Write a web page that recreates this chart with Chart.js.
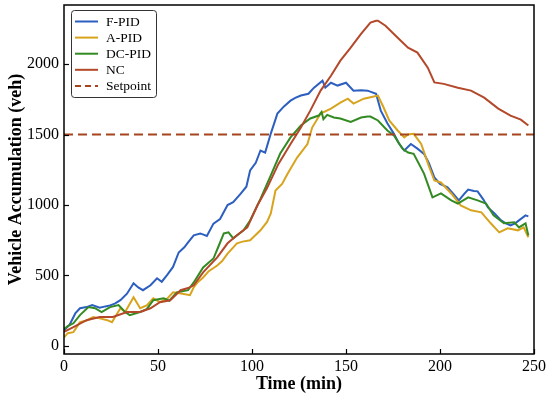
<!DOCTYPE html>
<html>
<head>
<meta charset="utf-8">
<script src="https://cdn.jsdelivr.net/npm/chart.js@4.4.0/dist/chart.umd.min.js"></script>
<style>
  html, body { margin: 0; padding: 0; background: #fff; }
  #wrap { width: 550px; height: 399px; }
</style>
</head>
<body>
<div id="wrap"><canvas id="accChart" width="550" height="399"></canvas></div>
<script>
// values (time in min, accumulation in veh)
const fpidTime = [0, 3, 6, 8.5, 12, 15, 19, 22, 24.5, 27, 30, 33.5, 37, 39.5, 42, 46, 49.5, 52, 55, 58, 61, 64, 66, 69, 72.5, 76, 79.5, 83, 87, 90, 94, 97, 99, 102, 104.5, 107, 110, 113.5, 117, 120.5, 123, 126, 130, 133, 137.5, 139, 142, 145.5, 150, 154, 158, 161.5, 166, 168.5, 172, 175.5, 178, 181, 184.5, 188, 191.5, 194, 197, 200, 204, 207, 210, 213, 215, 218, 220, 223, 225.5, 229, 232.5, 235, 237.5, 240, 242, 245.5, 247];
const fpidVals = [110, 150, 230, 267, 275, 290, 270, 280, 287, 300, 324, 370, 444, 415, 395, 430, 480, 455, 505, 560, 663, 700, 735, 785, 798, 780, 868, 900, 1000, 1020, 1080, 1130, 1245, 1300, 1387, 1372, 1507, 1649, 1700, 1741, 1760, 1777, 1790, 1833, 1883, 1833, 1868, 1848, 1868, 1812, 1815, 1812, 1790, 1670, 1580, 1505, 1440, 1387, 1433, 1400, 1363, 1300, 1196, 1150, 1125, 1080, 1033, 1080, 1110, 1100, 1097, 1040, 983, 940, 891, 870, 855, 870, 891, 926, 919];

const apidTime = [0, 2, 5, 8.5, 12, 15.5, 19, 23, 25.5, 30, 32.5, 37, 40.5, 44, 47.5, 51, 55, 58, 63, 67, 69, 71, 74, 77, 81.5, 84, 87, 92, 95, 99, 104.5, 108, 110, 112.5, 116, 119, 124, 129.5, 132, 136.5, 142, 147, 151, 154, 159.5, 163, 167, 170, 173, 177.5, 181, 183, 186, 190, 194, 197, 200.5, 206, 211, 216.5, 222, 227, 231.5, 236, 241.5, 244.5, 247];
const apidVals = [60, 90, 97, 168, 180, 205, 195, 182, 168, 267, 240, 345, 267, 287, 337, 310, 337, 380, 370, 360, 415, 450, 485, 530, 570, 600, 655, 728, 740, 749, 820, 880, 940, 1103, 1150, 1223, 1337, 1433, 1550, 1649, 1684, 1727, 1755, 1720, 1755, 1765, 1777, 1692, 1600, 1529, 1480, 1500, 1505, 1433, 1280, 1174, 1160, 1082, 997, 962, 948, 870, 806, 834, 820, 841, 770];

const dcpidTime = [0, 2, 5, 8.5, 13, 16.5, 20, 24.5, 29, 32.5, 35, 40.5, 44, 47.5, 53, 56, 60, 66, 69, 74, 79.5, 82, 85, 87.5, 90, 95.5, 99, 104.5, 110, 115, 120.5, 126, 131, 135.5, 137, 138, 140, 143.5, 147, 152.5, 158, 161.5, 163, 167, 172, 175.5, 180, 183, 186, 191.5, 196, 200.5, 206, 209.5, 215, 220, 224.5, 228.5, 234, 239.5, 242, 245.5, 247];
const dcpidVals = [120, 140, 160, 218, 275, 267, 240, 275, 290, 240, 218, 240, 260, 324, 337, 320, 380, 395, 450, 557, 620, 700, 798, 806, 763, 820, 890, 1043, 1210, 1365, 1480, 1564, 1614, 1635, 1660, 1610, 1640, 1621, 1614, 1590, 1621, 1628, 1628, 1600, 1529, 1493, 1400, 1373, 1363, 1223, 1054, 1082, 1033, 1010, 1054, 1033, 1010, 926, 870, 877, 841, 870, 784];

const ncTime = [0, 5, 12, 19, 26, 33.5, 40.5, 46, 51, 56.5, 62, 66, 69, 74, 81.5, 87, 92, 97.5, 103, 108, 114, 120.5, 126, 131, 136.5, 142, 147, 152.5, 158, 163, 166, 167, 171, 177.5, 183, 188, 193.5, 197, 202, 209.5, 216.5, 223.5, 231, 237.5, 243, 247];
const ncVals = [100, 133, 182, 205, 205, 240, 240, 267, 310, 324, 395, 410, 430, 522, 628, 728, 785, 841, 1000, 1120, 1290, 1433, 1550, 1670, 1812, 1918, 2025, 2117, 2215, 2295, 2308, 2308, 2273, 2188, 2117, 2082, 1975, 1870, 1860, 1833, 1812, 1762, 1684, 1635, 1606, 1564];

const setpointTime = [0, 250];
const setpointVals = [1500, 1500];

const xTicks = [0, 50, 100, 150, 200, 250];
const yTicks = [0, 500, 1000, 1500, 2000];

const seriesNames = ['F-PID', 'A-PID', 'DC-PID', 'NC', 'Setpoint'];
const seriesColors = ['#2c5fc0', '#d8a41e', '#338a22', '#b3482a', '#a6441e'];

function toPoints(ts, vs) {
    return ts.map((t, i) => ({ x: t, y: vs[i] }));
}

const serif = '"Liberation Serif", "Times New Roman", serif';

// box round the plot, inward ticks and a framed legend
const frameAndLegend = {
    id: 'frameAndLegend',
    afterDraw(chart) {
        const ctx = chart.ctx;
        const a = chart.chartArea;
        const xs = chart.scales.x;
        const ys = chart.scales.y;
        ctx.save();
        ctx.strokeStyle = '#000';
        ctx.lineWidth = 1.5;
        ctx.strokeRect(a.left, a.top, a.right - a.left, a.bottom - a.top);
        ctx.lineWidth = 1.2;
        xTicks.forEach(v => {
            const px = Math.round(xs.getPixelForValue(v)) + 0.5;
            ctx.beginPath();
            ctx.moveTo(px, a.bottom);
            ctx.lineTo(px, a.bottom - 5);
            ctx.stroke();
        });
        yTicks.forEach(v => {
            const py = Math.round(ys.getPixelForValue(v)) + 0.5;
            ctx.beginPath();
            ctx.moveTo(a.left, py);
            ctx.lineTo(a.left + 5, py);
            ctx.stroke();
        });

        // legend
        const lx = 71, ly = 10, lw = 85, lh = 87;
        ctx.fillStyle = '#fff';
        ctx.strokeStyle = '#333';
        ctx.lineWidth = 1;
        ctx.beginPath();
        ctx.roundRect(lx + 0.5, ly + 0.5, lw, lh, 3);
        ctx.fill();
        ctx.stroke();
        ctx.font = '13.5px ' + serif;
        ctx.textBaseline = 'middle';
        ctx.textAlign = 'left';
        seriesNames.forEach((name, i) => {
            const y = ly + 11.5 + i * 16.1;
            ctx.strokeStyle = seriesColors[i];
            ctx.lineWidth = 2;
            ctx.setLineDash(i === 4 ? [6, 4] : []);
            ctx.beginPath();
            ctx.moveTo(75, y);
            ctx.lineTo(98, y);
            ctx.stroke();
            ctx.setLineDash([]);
            ctx.fillStyle = '#000';
            ctx.fillText(name, 106, y + 1);
        });
        ctx.restore();
    }
};

const ctx = document.getElementById('accChart').getContext('2d');
const lineOpts = { borderWidth: 2, pointRadius: 0, fill: false, tension: 0 };

new Chart(ctx, {
    type: 'line',
    data: {
        datasets: [
            { label: seriesNames[0], data: toPoints(fpidTime, fpidVals), borderColor: seriesColors[0], order: 5, ...lineOpts },
            { label: seriesNames[1], data: toPoints(apidTime, apidVals), borderColor: seriesColors[1], order: 4, ...lineOpts },
            { label: seriesNames[2], data: toPoints(dcpidTime, dcpidVals), borderColor: seriesColors[2], order: 3, ...lineOpts },
            { label: seriesNames[3], data: toPoints(ncTime, ncVals), borderColor: seriesColors[3], order: 2, ...lineOpts },
            { label: seriesNames[4], data: toPoints(setpointTime, setpointVals), borderColor: seriesColors[4], order: 1, borderDash: [9, 5], ...lineOpts }
        ]
    },
    options: {
        responsive: false,
        animation: false,
        layout: { padding: { top: 5, right: 16, bottom: 0, left: 0 } },
        plugins: {
            legend: { display: false },
            tooltip: { enabled: false }
        },
        scales: {
            x: {
                type: 'linear',
                min: 0,
                max: 250,
                afterBuildTicks: s => { s.ticks = xTicks.map(v => ({ value: v })); },
                afterFit: s => { s.height = 45; s.paddingLeft = 0; s.paddingRight = 0; },
                grid: { display: false, drawTicks: false },
                border: { display: false },
                ticks: { color: '#000', font: { family: serif, size: 16 }, padding: 3, maxRotation: 0, callback: v => String(v) },
                title: { display: true, text: 'Time (min)', color: '#000', font: { family: serif, size: 18, weight: 'bold' }, padding: { top: 0, bottom: 4 } }
            },
            y: {
                type: 'linear',
                min: -58,
                max: 2420,
                afterBuildTicks: s => { s.ticks = yTicks.map(v => ({ value: v })); },
                afterFit: s => { s.width = 64; s.paddingTop = 0; s.paddingBottom = 0; },
                grid: { display: false, drawTicks: false },
                border: { display: false },
                ticks: { color: '#000', font: { family: serif, size: 16 }, padding: 5, callback: v => String(v) },
                title: { display: true, text: 'Vehicle Accumulation (veh)', color: '#000', font: { family: serif, size: 18, weight: 'bold' }, padding: { top: 6, bottom: 0 } }
            }
        }
    },
    plugins: [frameAndLegend]
});
</script>
</body>
</html>
